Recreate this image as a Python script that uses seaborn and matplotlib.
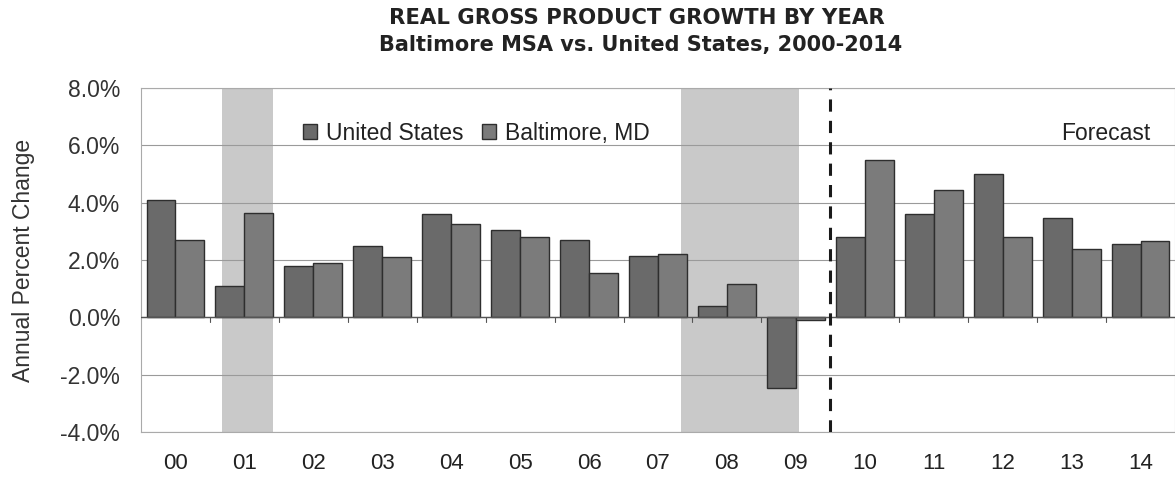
import matplotlib
matplotlib.use("Agg")
import matplotlib.pyplot as plt
import seaborn as sns
import pandas as pd
import numpy as np

years = ["00", "01", "02", "03", "04", "05", "06", "07", "08", "09", "10", "11", "12", "13", "14"]
us_growth = [4.1, 1.1, 1.8, 2.5, 3.6, 3.05, 2.7, 2.15, 0.4, -2.45, 2.8, 3.6, 5.0, 3.45, 2.55]
baltimore_growth = [2.7, 3.65, 1.9, 2.1, 3.25, 2.8, 1.55, 2.2, 1.15, -0.1, 5.5, 4.45, 2.8, 2.4, 2.65]
series_names = ["United States", "Baltimore, MD"]
y_ticks = [-4, -2, 0, 2, 4, 6, 8]

df = pd.DataFrame({
    "Year": years * 2,
    "Growth": us_growth + baltimore_growth,
    "Series": [series_names[0]] * len(years) + [series_names[1]] * len(years),
})

sns.set_theme(style="white")
plt.rcParams["font.family"] = ["Liberation Sans", "DejaVu Sans"]

fig = plt.figure(figsize=(11.75, 4.78), dpi=100)
ax = fig.add_axes([0.12, 0.096, 0.88, 0.72])

# recession shading
ax.axvspan(0.68, 1.42, color="#c9c9c9", zorder=0, lw=0)
ax.axvspan(7.34, 9.04, color="#c9c9c9", zorder=0, lw=0)

for t in y_ticks:
    ax.axhline(t, color="#9a9a9a", lw=0.8, zorder=0.5)

sns.barplot(data=df, x="Year", y="Growth", hue="Series", order=years,
            hue_order=series_names, palette=["#6a6a6a", "#7b7b7b"],
            width=0.84, edgecolor="#2e2e2e", linewidth=1.0, ax=ax, zorder=2,
            saturation=1)

ax.axhline(0, color="#555555", lw=1.0, zorder=3)
for b in np.arange(0.5, len(years) - 0.5, 1.0):
    ax.plot([b, b], [0, -0.15], color="#555555", lw=0.8, zorder=3)

ax.axvline(9.5, color="#1a1a1a", lw=2.2, ls=(0, (4, 3)), zorder=4)

ax.set_xlim(-0.5, len(years) - 0.5)
ax.set_ylim(-4, 8)
ax.set_yticks(y_ticks)
ax.set_yticklabels([f"{t:.1f}%" for t in y_ticks])
ax.set_xlabel("")
ax.set_ylabel("Annual Percent Change", fontsize=16.5, color="#333333")
ax.yaxis.set_label_coords(-0.1025, 0.5)
ax.tick_params(axis="x", length=0, pad=15, labelsize=16, labelcolor="#222222")
ax.tick_params(axis="y", length=0, pad=15, labelsize=16.5, labelcolor="#333333")

for s in ax.spines.values():
    s.set_color("#aaaaaa")
    s.set_linewidth(0.8)

leg = ax.legend(loc="center left", bbox_to_anchor=(0.157, 0.869), ncol=2, frameon=False,
                fontsize=16.5, handlelength=0.6, handleheight=0.6, handletextpad=0.4,
                columnspacing=0.8, labelcolor="#222222", borderaxespad=0, borderpad=0)

ax.text(0.976, 0.869, "Forecast", transform=ax.transAxes, ha="right", va="center",
        fontsize=16.5, color="#222222")

fig.text(0.542, 0.962, "REAL GROSS PRODUCT GROWTH BY YEAR", ha="center", va="center",
         fontsize=15.3, fontweight="bold", color="#222222", family="DejaVu Sans")
fig.text(0.545, 0.905, "Baltimore MSA vs. United States, 2000-2014", ha="center", va="center",
         fontsize=15, fontweight="bold", color="#222222", family="DejaVu Sans")

fig.savefig("out.png", dpi=100)
